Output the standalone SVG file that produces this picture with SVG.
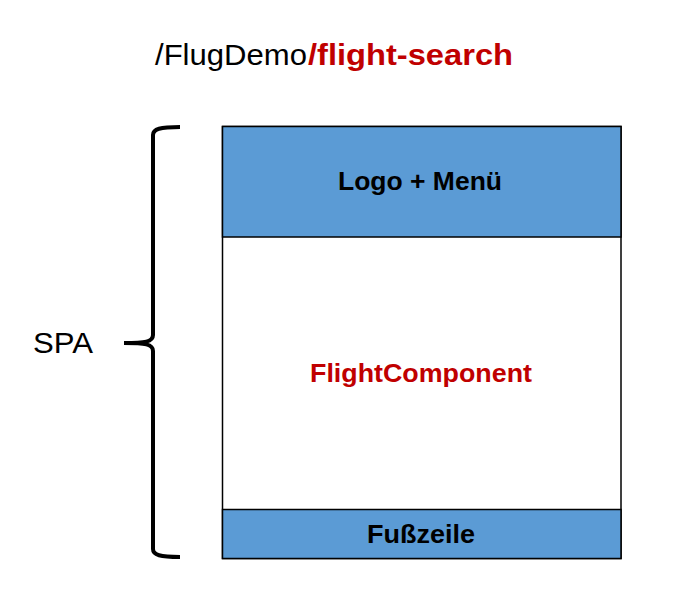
<svg xmlns="http://www.w3.org/2000/svg" width="693" height="591" viewBox="0 0 693 591">
<style>
.t{font-family:"Liberation Sans",Arial,sans-serif}
.b{font-weight:bold}
.red{fill:#C00000}
.blue{fill:#5B9BD5;stroke:#000;stroke-width:1.5}
</style>
<rect width="693" height="591" fill="#fff"/>
<g id="title">
<text class="t" x="155" y="65" font-size="29" textLength="152" lengthAdjust="spacingAndGlyphs">/FlugDemo</text>
<text class="t b red" x="308" y="65" font-size="29" textLength="205" lengthAdjust="spacingAndGlyphs">/flight-search</text>
</g>
<g id="connectors">
<path d="M180,127 C160,127 153,129 153,135 L153,335 C153,342 145,343 124,343 C145,343 153,344 153,351 L153,549 C153,555 160,557 180,557" fill="none" stroke="#000" stroke-width="4"/>
</g>
<g id="spa"><text class="t" x="33" y="353" font-size="29" textLength="60" lengthAdjust="spacingAndGlyphs">SPA</text></g>
<g id="frame"><rect x="222.5" y="126.5" width="398.5" height="432" fill="#fff" stroke="#000" stroke-width="1.5"/></g>
<g id="header">
<rect class="blue" x="222.5" y="126.5" width="398.5" height="110.5"/>
<text class="t b" x="338" y="190" font-size="26" textLength="164" lengthAdjust="spacingAndGlyphs">Logo + Menü</text>
</g>
<g id="flight">
<text class="t b red" x="310" y="382" font-size="26" textLength="222" lengthAdjust="spacingAndGlyphs">FlightComponent</text>
</g>
<g id="footer">
<rect class="blue" x="222.5" y="509.5" width="398.5" height="49"/>
<text class="t b" x="367" y="543" font-size="26" textLength="108" lengthAdjust="spacingAndGlyphs">Fußzeile</text>
</g>
</svg>
